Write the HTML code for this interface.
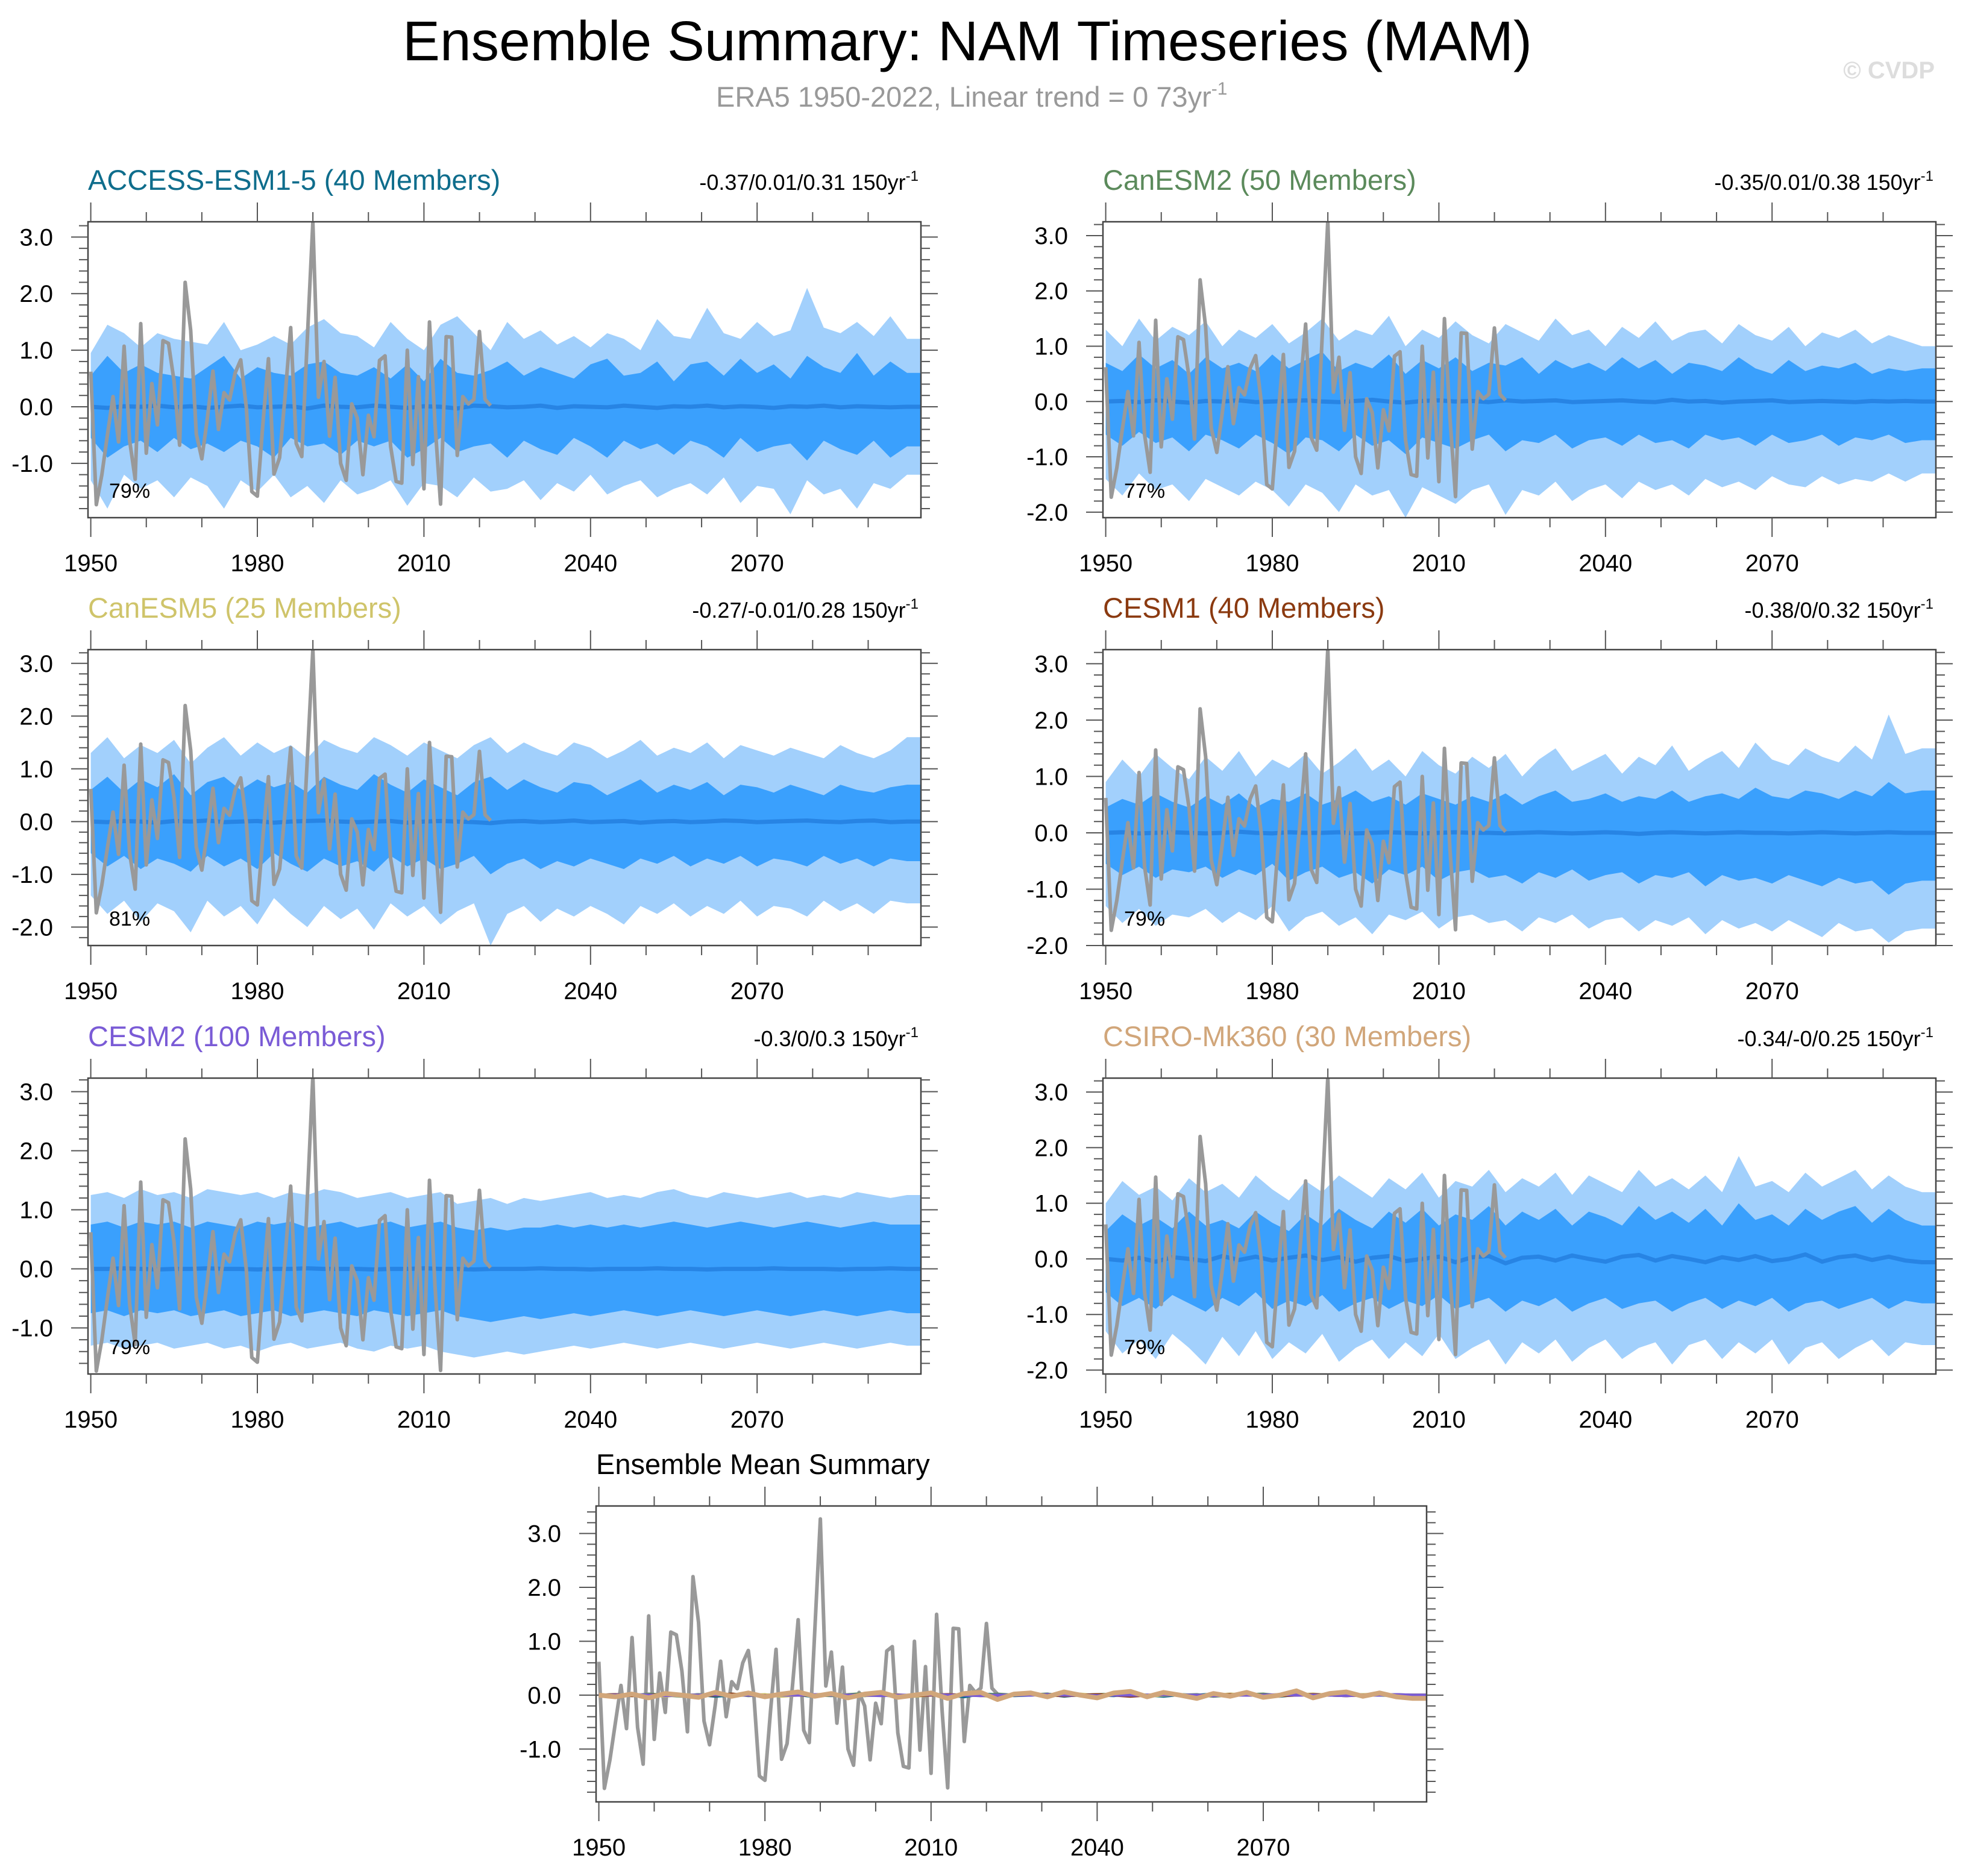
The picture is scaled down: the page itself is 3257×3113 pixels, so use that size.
<!DOCTYPE html>
<html><head><meta charset="utf-8"><style>
html,body{margin:0;padding:0;background:#fff}
svg{display:block;font-family:"Liberation Sans",sans-serif}
</style></head><body>
<svg id="fig" width="3257" height="3113" viewBox="0 0 3257 3113" xmlns="http://www.w3.org/2000/svg">
<text x="1605" y="100" font-size="93" text-anchor="middle" textLength="1874" lengthAdjust="spacingAndGlyphs">Ensemble Summary: NAM Timeseries (MAM)</text>
<text x="1188" y="177" font-size="47" fill="#999">ERA5 1950-2022, Linear trend = 0 73yr<tspan font-size="30" dy="-20">-1</tspan></text>
<text x="3210" y="130" font-size="40" font-weight="bold" fill="#ddd" text-anchor="end">© CVDP</text>
</svg>
<script>
// ---- data ----
const bandYears = Array.from({length:50},(_,i)=>1950+3*i);
const obsYears = Array.from({length:73},(_,i)=>1950+i);
const obsValues = [0.62,-1.73,-1.2,-0.5,0.18,-0.62,1.07,-0.6,-1.28,1.47,-0.82,0.41,-0.32,1.17,1.12,0.45,-0.68,2.2,1.35,-0.48,-0.92,-0.2,0.63,-0.4,0.25,0.12,0.6,0.83,0.0,-1.5,-1.58,-0.3,0.85,-1.19,-0.9,0.2,1.4,-0.65,-0.88,1.2,3.27,0.17,0.8,-0.52,0.52,-1.0,-1.3,0.05,-0.2,-1.2,-0.15,-0.53,0.82,0.9,-0.7,-1.32,-1.35,1.0,-1.02,0.53,-1.45,1.5,-0.3,-1.72,1.24,1.23,-0.86,0.18,0.05,0.13,1.33,0.13,0.02];

const p1OuterU=[0.95,1.45,1.3,1.05,1.3,1.2,1.15,1.1,1.5,1.0,1.1,1.25,1.1,1.4,1.55,1.3,1.25,1.05,1.5,1.2,1.0,1.45,1.6,1.3,1.0,1.5,1.2,1.35,1.1,1.25,1.05,1.3,1.2,1.0,1.55,1.25,1.2,1.75,1.3,1.2,1.5,1.25,1.35,2.1,1.4,1.3,1.5,1.25,1.6,1.2];
const p1InnerU=[0.55,0.9,0.6,0.75,0.6,0.55,0.5,0.7,0.9,0.5,0.7,0.6,0.55,0.75,0.8,0.6,0.55,0.7,0.5,0.75,0.45,0.85,0.6,0.55,0.65,0.8,0.55,0.7,0.6,0.5,0.75,0.85,0.55,0.6,0.8,0.45,0.75,0.8,0.55,0.85,0.6,0.75,0.5,0.9,0.7,0.6,0.95,0.55,0.8,0.6];
const p1InnerL=[-0.55,-0.9,-0.7,-0.6,-0.8,-0.55,-0.75,-0.65,-0.8,-0.6,-0.7,-0.9,-0.55,-0.7,-0.65,-0.85,-0.6,-0.7,-0.6,-0.9,-0.75,-0.55,-0.8,-0.7,-0.65,-0.9,-0.6,-0.75,-0.85,-0.55,-0.7,-0.9,-0.6,-0.75,-0.65,-0.85,-0.6,-0.7,-0.9,-0.55,-0.8,-0.7,-0.65,-0.95,-0.6,-0.75,-0.85,-0.6,-0.9,-0.7];
const p1OuterL=[-1.3,-1.8,-1.2,-1.45,-1.3,-1.6,-1.25,-1.4,-1.8,-1.3,-1.5,-1.2,-1.6,-1.4,-1.7,-1.3,-1.55,-1.45,-1.3,-1.75,-1.35,-1.4,-1.6,-1.25,-1.5,-1.45,-1.3,-1.65,-1.35,-1.5,-1.2,-1.55,-1.4,-1.3,-1.6,-1.45,-1.35,-1.55,-1.25,-1.7,-1.4,-1.45,-1.9,-1.3,-1.55,-1.45,-1.8,-1.35,-1.45,-1.2];
const p1Mean=[0,-0.02,0.01,0.0,0.02,-0.01,0.01,-0.02,0.0,0.02,-0.01,0.0,0.01,-0.03,0.02,0.0,-0.01,0.02,0.0,-0.02,0.01,0.0,-0.03,0.02,0.01,-0.01,0.0,0.02,-0.02,0.01,0.0,-0.01,0.02,0.0,-0.02,0.01,0.0,0.02,-0.01,0.01,0.0,-0.02,0.01,0.0,0.02,-0.01,0.01,0.0,-0.01,0.0];

const p2OuterU=[1.3,1.0,1.5,1.1,1.35,1.2,1.45,1.0,1.3,1.15,1.4,1.05,1.25,1.5,1.1,1.3,1.2,1.55,1.0,1.3,1.15,1.45,1.2,1.05,1.4,1.25,1.1,1.5,1.2,1.3,1.0,1.35,1.15,1.45,1.1,1.25,1.3,1.05,1.4,1.2,1.1,1.35,1.0,1.25,1.15,1.3,1.05,1.2,1.1,1.0];
const p2InnerU=[0.7,0.55,0.85,0.6,0.75,0.5,0.8,0.6,0.7,0.55,0.85,0.6,0.75,0.9,0.55,0.7,0.6,0.85,0.5,0.75,0.6,0.8,0.55,0.7,0.65,0.8,0.5,0.75,0.6,0.7,0.55,0.8,0.6,0.75,0.5,0.7,0.65,0.55,0.8,0.6,0.5,0.75,0.55,0.65,0.6,0.7,0.5,0.6,0.55,0.6];
const p2InnerL=[-0.6,-0.8,-0.55,-0.75,-0.65,-0.9,-0.6,-0.7,-0.85,-0.6,-0.75,-0.95,-0.65,-0.7,-0.9,-0.6,-0.8,-0.7,-0.95,-0.65,-0.75,-0.85,-0.7,-0.6,-0.9,-0.7,-0.75,-0.6,-0.85,-0.7,-0.65,-0.8,-0.6,-0.75,-0.7,-0.85,-0.6,-0.7,-0.65,-0.8,-0.6,-0.75,-0.7,-0.6,-0.8,-0.65,-0.7,-0.6,-0.75,-0.7];
const p2OuterL=[-1.4,-1.7,-1.3,-1.6,-1.5,-1.8,-1.4,-1.55,-1.7,-1.45,-1.6,-1.9,-1.5,-1.65,-2.0,-1.5,-1.7,-1.6,-2.1,-1.55,-1.7,-1.85,-1.6,-1.5,-2.05,-1.6,-1.7,-1.45,-1.8,-1.6,-1.5,-1.75,-1.45,-1.6,-1.5,-1.7,-1.4,-1.55,-1.45,-1.6,-1.35,-1.5,-1.55,-1.35,-1.5,-1.4,-1.45,-1.3,-1.45,-1.3];
const p2Mean=[0.0,0.01,-0.01,0.02,0.0,-0.02,0.01,0.0,0.02,-0.01,0.0,0.01,0.02,0.0,-0.01,0.01,0.03,0.0,-0.02,0.01,0.02,0.0,0.01,-0.01,0.02,0.0,0.01,0.02,-0.01,0.0,0.01,0.02,0.0,-0.01,0.03,0.0,0.01,-0.02,0.0,0.01,0.02,-0.01,0.0,0.01,0.0,-0.01,0.01,0.0,0.01,0.0];

const p3OuterU=[1.3,1.6,1.2,1.45,1.3,1.55,1.1,1.4,1.6,1.25,1.5,1.3,1.45,1.2,1.55,1.4,1.3,1.6,1.45,1.25,1.5,1.35,1.2,1.45,1.6,1.3,1.5,1.35,1.25,1.5,1.4,1.2,1.35,1.55,1.25,1.4,1.3,1.5,1.2,1.45,1.35,1.25,1.4,1.3,1.2,1.45,1.3,1.2,1.35,1.6];
const p3InnerU=[0.6,0.85,0.55,0.8,0.65,0.9,0.5,0.75,0.85,0.6,0.8,0.65,0.75,0.55,0.85,0.7,0.6,0.9,0.7,0.55,0.8,0.65,0.5,0.75,0.85,0.6,0.8,0.65,0.55,0.75,0.7,0.5,0.65,0.8,0.55,0.7,0.6,0.75,0.5,0.7,0.65,0.55,0.7,0.6,0.5,0.7,0.6,0.55,0.65,0.7];
const p3InnerL=[-0.6,-0.85,-0.65,-0.9,-0.7,-0.8,-0.95,-0.65,-0.85,-0.7,-0.9,-0.6,-0.8,-0.95,-0.7,-0.85,-0.75,-0.95,-0.65,-0.85,-0.7,-0.9,-0.8,-0.65,-1.0,-0.8,-0.7,-0.9,-0.75,-0.85,-0.7,-0.8,-0.9,-0.7,-0.8,-0.65,-0.85,-0.7,-0.8,-0.65,-0.85,-0.7,-0.75,-0.85,-0.65,-0.8,-0.7,-0.85,-0.7,-0.75];
const p3OuterL=[-1.4,-1.75,-1.5,-1.9,-1.55,-1.7,-2.1,-1.5,-1.8,-1.6,-1.95,-1.45,-1.75,-2.0,-1.6,-1.85,-1.65,-2.05,-1.55,-1.8,-1.6,-1.95,-1.7,-1.55,-2.35,-1.75,-1.6,-1.9,-1.65,-1.8,-1.6,-1.75,-1.95,-1.6,-1.75,-1.55,-1.8,-1.6,-1.75,-1.5,-1.8,-1.6,-1.65,-1.8,-1.5,-1.7,-1.55,-1.75,-1.5,-1.55];
const p3Mean=[0.0,-0.01,0.01,0.0,-0.02,0.01,0.0,0.02,-0.01,0.0,0.01,-0.02,0.0,0.01,0.02,0.0,-0.01,0.0,0.01,-0.02,0.0,0.01,0.0,-0.01,-0.03,0.0,0.01,-0.01,0.0,0.02,-0.01,0.0,0.01,-0.02,0.0,0.01,-0.01,0.0,0.02,0.01,-0.01,0.0,0.01,0.02,0.0,-0.01,0.01,0.02,-0.01,0.0];

const p4OuterU=[0.9,1.3,1.0,1.4,1.15,0.95,1.35,1.1,1.45,1.0,1.3,1.15,1.4,1.05,1.25,1.5,1.1,1.3,1.0,1.45,1.2,1.05,1.35,1.15,1.4,1.0,1.3,1.5,1.1,1.25,1.4,1.05,1.35,1.2,1.55,1.1,1.3,1.45,1.15,1.6,1.3,1.2,1.5,1.35,1.25,1.55,1.3,2.1,1.4,1.5];
const p4InnerU=[0.45,0.6,0.5,0.7,0.55,0.45,0.65,0.5,0.7,0.45,0.6,0.55,0.7,0.5,0.6,0.75,0.55,0.65,0.5,0.7,0.6,0.5,0.65,0.55,0.7,0.5,0.65,0.75,0.55,0.6,0.7,0.55,0.65,0.6,0.75,0.55,0.65,0.7,0.6,0.8,0.65,0.6,0.75,0.7,0.6,0.75,0.65,0.9,0.7,0.75];
const p4InnerL=[-0.55,-0.75,-0.6,-0.8,-0.65,-0.7,-0.6,-0.8,-0.65,-0.75,-0.55,-0.85,-0.7,-0.6,-0.8,-0.7,-0.9,-0.65,-0.75,-0.6,-0.85,-0.7,-0.65,-0.8,-0.75,-0.9,-0.7,-0.8,-0.65,-0.85,-0.75,-0.7,-0.9,-0.75,-0.8,-0.7,-0.95,-0.75,-0.85,-0.8,-0.9,-0.75,-0.85,-0.95,-0.8,-0.9,-0.85,-1.1,-0.9,-0.85];
const p4OuterL=[-1.3,-1.6,-1.35,-1.65,-1.45,-1.5,-1.35,-1.6,-1.4,-1.55,-1.3,-1.75,-1.5,-1.4,-1.65,-1.5,-1.8,-1.45,-1.55,-1.4,-1.7,-1.5,-1.45,-1.6,-1.55,-1.75,-1.5,-1.6,-1.45,-1.7,-1.55,-1.5,-1.75,-1.55,-1.65,-1.5,-1.8,-1.55,-1.7,-1.6,-1.75,-1.55,-1.7,-1.85,-1.6,-1.75,-1.7,-1.95,-1.75,-1.7];
const p4Mean=[0.0,0.01,-0.01,0.0,0.01,0.0,-0.01,0.0,0.02,0.0,-0.01,0.01,0.0,0.0,0.01,-0.01,0.0,0.01,0.0,-0.01,0.0,0.01,0.0,0.0,-0.01,0.0,0.01,0.0,-0.01,0.0,0.01,0.0,-0.02,0.0,0.01,0.0,-0.01,0.0,0.01,0.0,0.0,-0.01,0.0,0.01,0.0,-0.01,0.0,0.01,0.0,0.0];

const p5OuterU=[1.25,1.3,1.2,1.35,1.25,1.3,1.2,1.35,1.3,1.25,1.3,1.2,1.3,1.25,1.35,1.3,1.2,1.25,1.3,1.2,1.25,1.3,1.1,1.15,1.2,1.1,1.2,1.15,1.2,1.25,1.3,1.2,1.25,1.2,1.3,1.35,1.25,1.2,1.3,1.25,1.2,1.25,1.3,1.2,1.25,1.2,1.3,1.25,1.2,1.25];
const p5InnerU=[0.75,0.8,0.7,0.8,0.75,0.8,0.7,0.8,0.75,0.7,0.8,0.75,0.8,0.7,0.75,0.8,0.7,0.75,0.8,0.7,0.75,0.8,0.7,0.65,0.7,0.65,0.7,0.7,0.75,0.7,0.75,0.7,0.75,0.7,0.75,0.8,0.75,0.7,0.75,0.8,0.75,0.7,0.75,0.8,0.75,0.7,0.75,0.8,0.75,0.75];
const p5InnerL=[-0.75,-0.7,-0.8,-0.7,-0.75,-0.7,-0.8,-0.75,-0.7,-0.8,-0.75,-0.7,-0.8,-0.75,-0.7,-0.75,-0.8,-0.7,-0.75,-0.8,-0.75,-0.7,-0.8,-0.85,-0.9,-0.85,-0.8,-0.85,-0.8,-0.75,-0.8,-0.75,-0.7,-0.75,-0.8,-0.75,-0.7,-0.75,-0.8,-0.75,-0.7,-0.75,-0.8,-0.75,-0.7,-0.75,-0.8,-0.75,-0.7,-0.75];
const p5OuterL=[-1.3,-1.25,-1.35,-1.3,-1.25,-1.35,-1.3,-1.25,-1.35,-1.3,-1.4,-1.3,-1.25,-1.35,-1.3,-1.25,-1.35,-1.4,-1.3,-1.35,-1.3,-1.4,-1.45,-1.5,-1.45,-1.4,-1.45,-1.4,-1.35,-1.3,-1.35,-1.3,-1.25,-1.3,-1.35,-1.3,-1.25,-1.3,-1.35,-1.3,-1.25,-1.3,-1.35,-1.3,-1.25,-1.3,-1.35,-1.3,-1.25,-1.3];
const p5Mean=[0.0,0.0,0.01,0.0,-0.01,0.0,0.0,0.01,0.0,0.0,-0.01,0.0,0.0,0.01,0.0,0.0,0.0,-0.01,0.0,0.0,0.01,0.0,0.0,-0.01,0.0,0.0,0.0,0.01,0.0,0.0,-0.01,0.0,0.0,0.0,0.01,0.0,0.0,-0.01,0.0,0.0,0.0,0.01,0.0,0.0,0.0,-0.01,0.0,0.0,0.01,0.0];

const p6OuterU=[1.0,1.4,1.15,1.3,1.05,1.45,1.2,1.35,1.1,1.5,1.25,1.05,1.4,1.2,1.5,1.3,1.1,1.45,1.25,1.55,1.1,1.4,1.3,1.6,1.2,1.45,1.3,1.55,1.15,1.5,1.35,1.2,1.6,1.3,1.45,1.25,1.5,1.2,1.85,1.3,1.4,1.2,1.55,1.3,1.45,1.6,1.25,1.5,1.3,1.2];
const p6InnerU=[0.5,0.8,0.6,0.75,0.55,0.85,0.6,0.7,0.55,0.85,0.65,0.5,0.8,0.6,0.9,0.7,0.55,0.85,0.65,0.9,0.6,0.8,0.7,0.95,0.6,0.85,0.7,0.9,0.6,0.85,0.75,0.6,0.95,0.7,0.85,0.65,0.9,0.6,1.0,0.7,0.8,0.6,0.9,0.7,0.85,0.95,0.65,0.9,0.7,0.6];
const p6InnerL=[-0.6,-0.85,-0.7,-0.9,-0.65,-0.8,-0.95,-0.7,-0.85,-0.6,-0.9,-0.75,-0.85,-0.65,-0.95,-0.8,-0.7,-0.9,-0.75,-0.85,-0.65,-0.9,-0.8,-0.7,-0.95,-0.75,-0.85,-0.7,-0.95,-0.8,-0.7,-0.9,-0.8,-0.75,-0.95,-0.8,-0.7,-0.9,-0.75,-0.85,-0.7,-0.95,-0.8,-0.75,-0.9,-0.8,-0.7,-0.9,-0.75,-0.8];
const p6OuterL=[-1.3,-1.7,-1.45,-1.8,-1.35,-1.6,-1.9,-1.4,-1.75,-1.3,-1.8,-1.5,-1.7,-1.35,-1.85,-1.6,-1.45,-1.8,-1.5,-1.75,-1.35,-1.8,-1.6,-1.45,-1.9,-1.5,-1.7,-1.45,-1.85,-1.6,-1.45,-1.8,-1.6,-1.5,-1.9,-1.55,-1.45,-1.8,-1.5,-1.7,-1.45,-1.9,-1.6,-1.5,-1.8,-1.6,-1.45,-1.75,-1.5,-1.55];
const p6Mean=[0.0,-0.03,0.02,-0.05,0.03,0.0,-0.04,0.05,-0.02,0.04,-0.03,0.02,0.06,-0.02,0.03,-0.05,0.02,0.05,-0.04,0.0,0.04,-0.06,0.03,0.05,-0.08,0.02,0.04,-0.03,0.06,0.0,-0.05,0.04,0.07,-0.03,0.05,0.0,-0.06,0.03,-0.02,0.05,-0.04,0.0,0.08,-0.05,0.03,0.06,-0.02,0.04,-0.03,-0.06];

const panelNames=["ACCESS-ESM1-5 (40 Members)","CanESM2 (50 Members)","CanESM5 (25 Members)","CESM1 (40 Members)","CESM2 (100 Members)","CSIRO-Mk360 (30 Members)"];
const panelStats=["-0.37/0.01/0.31 150yr","-0.35/0.01/0.38 150yr","-0.27/-0.01/0.28 150yr","-0.38/0/0.32 150yr","-0.3/0/0.3 150yr","-0.34/-0/0.25 150yr"];
const panelPct=["79%","77%","81%","79%","79%","79%"];
const panelColors=["#0f6d8c","#5b8a5b","#cfc46a","#8b3a10","#7a5bd6","#d1a67a"];
const panelYMin=[-1.96,-2.1,-2.35,-2.0,-1.78,-2.07];
const panelYMax=[3.27,3.25,3.26,3.25,3.23,3.25];
const xMajorTicks=[1950,1980,2010,2040,2070];

const bands=[[p1OuterU,p1InnerU,p1InnerL,p1OuterL,p1Mean],[p2OuterU,p2InnerU,p2InnerL,p2OuterL,p2Mean],[p3OuterU,p3InnerU,p3InnerL,p3OuterL,p3Mean],[p4OuterU,p4InnerU,p4InnerL,p4OuterL,p4Mean],[p5OuterU,p5InnerU,p5InnerL,p5OuterL,p5Mean],[p6OuterU,p6InnerU,p6InnerL,p6OuterL,p6Mean]];

// ---- drawing ----
const NS="http://www.w3.org/2000/svg";
const svg=document.getElementById('fig');
function mk(tag,attrs,parent){const e=document.createElementNS(NS,tag);for(const k in attrs)e.setAttribute(k,attrs[k]);(parent||svg).appendChild(e);return e;}

function drawPanel(L,T,W,H,ymin,ymax,idx){
  const g=mk('g',{});
  
  
  const xs=y=>L+(y-1949.5)/150*W;
  const ys=v=>T+(ymax-v)/(ymax-ymin)*H;
  const clipId='clip'+idx+'_'+Math.round(L);
  const cp=mk('clipPath',{id:clipId},g);mk('rect',{x:L,y:T,width:W,height:H},cp);
  const pg=mk('g',{'clip-path':'url(#'+clipId+')'},g);
  const yr=bandYears.concat([2099.5]);
  const ext=a=>a.concat([a[a.length-1]]);
  if(idx>=0){
    const [oU,iU,iL,oL,mn]=bands[idx];
    const poly=(up,lo,col,name)=>{
      const U=ext(up),D=ext(lo);
      let pts=[];yr.forEach((y,i)=>pts.push(xs(y).toFixed(1)+','+ys(U[i]).toFixed(1)));
      for(let i=yr.length-1;i>=0;i--)pts.push(xs(yr[i]).toFixed(1)+','+ys(D[i]).toFixed(1));
      const p=mk('polygon',{points:pts.join(' '),fill:col},pg);
      
      
    };
    poly(oU,oL,'#a2d0fc','band-5-95');
    poly(iU,iL,'#3aa0fd','band-25-75');
    const M=ext(mn);
    const ml=mk('polyline',{points:yr.map((y,i)=>xs(y).toFixed(1)+','+ys(M[i]).toFixed(1)).join(' '),fill:'none',stroke:'#2784e4','stroke-width':7,'stroke-linejoin':'round'},pg);
    
    
  } else {
    mk('line',{x1:L,x2:L+W,y1:ys(0),y2:ys(0),stroke:'#555','stroke-width':2.5},pg);
  }
  const ol=mk('polyline',{points:obsYears.map((y,i)=>xs(y).toFixed(1)+','+ys(obsValues[i]).toFixed(1)).join(' '),fill:'none',stroke:'#999','stroke-width':6,'stroke-linejoin':'round'},pg);
  
  
  if(idx<0){
    const yr2=bandYears.concat([2099.5]);
    bands.forEach((b,k)=>{
      const M=b[4].concat([b[4][b[4].length-1]]);
      const l=mk('polyline',{points:yr2.map((y,i)=>xs(y).toFixed(1)+','+ys(M[i]).toFixed(1)).join(' '),fill:'none',stroke:panelColors[k],'stroke-width':k==5?8:5,'stroke-linejoin':'round'},pg);
      
      
    });
  }
  mk('rect',{x:L,y:T,width:W,height:H,fill:'none',stroke:'#444','stroke-width':2.5},g);
  for(let y=1950;y<2100;y+=10){
    const major=(y-1950)%30===0, x=xs(y), len=major?32:16;
    mk('line',{x1:x,x2:x,y1:T,y2:T-len,stroke:'#555','stroke-width':2},g);
    mk('line',{x1:x,x2:x,y1:T+H,y2:T+H+len,stroke:'#555','stroke-width':2},g);
  }
  xMajorTicks.forEach(y=>{
    const t=mk('text',{x:xs(y),y:T+H+89,'font-size':40,'text-anchor':'middle'},g);t.textContent=y;
    
    
  });
  for(let k=Math.ceil(ymin*5);k<=Math.floor(ymax*5);k++){
    const v=k/5, y=ys(v), major=k%5===0, len=major?28:15;
    mk('line',{x1:L,x2:L-len,y1:y,y2:y,stroke:'#555','stroke-width':2},g);
    mk('line',{x1:L+W,x2:L+W+len,y1:y,y2:y,stroke:'#555','stroke-width':2},g);
    if(major){
      const t=mk('text',{x:L-58,y:y+14,'font-size':40,'text-anchor':'end'},g);t.textContent=v.toFixed(1);
      
      
    }
  }
  const tt=mk('text',{x:L,y:T-53,'font-size':47,fill:idx<0?'#000':panelColors[idx]},g);
  tt.textContent=idx<0?'Ensemble Mean Summary':panelNames[idx];
  
  
  if(idx>=0){
    const st=mk('text',{x:L+W-4,y:T-53,'font-size':36,'text-anchor':'end'},g);
    st.textContent=panelStats[idx];
    const sup=mk('tspan',{'font-size':24,dy:-15},st);sup.textContent='-1';
    
    
    const pc=mk('text',{x:xs(1953.3),y:T+H-33,'font-size':34},g);pc.textContent=panelPct[idx];
    
    
  }
}
const cols=[146,1830], rows=[368,1078,1789];
for(let i=0;i<6;i++) drawPanel(cols[i%2],rows[Math.floor(i/2)],1382,491,panelYMin[i],panelYMax[i],i);
drawPanel(989,2499,1378,491,-1.98,3.51,-1);
</script>
</body></html>
